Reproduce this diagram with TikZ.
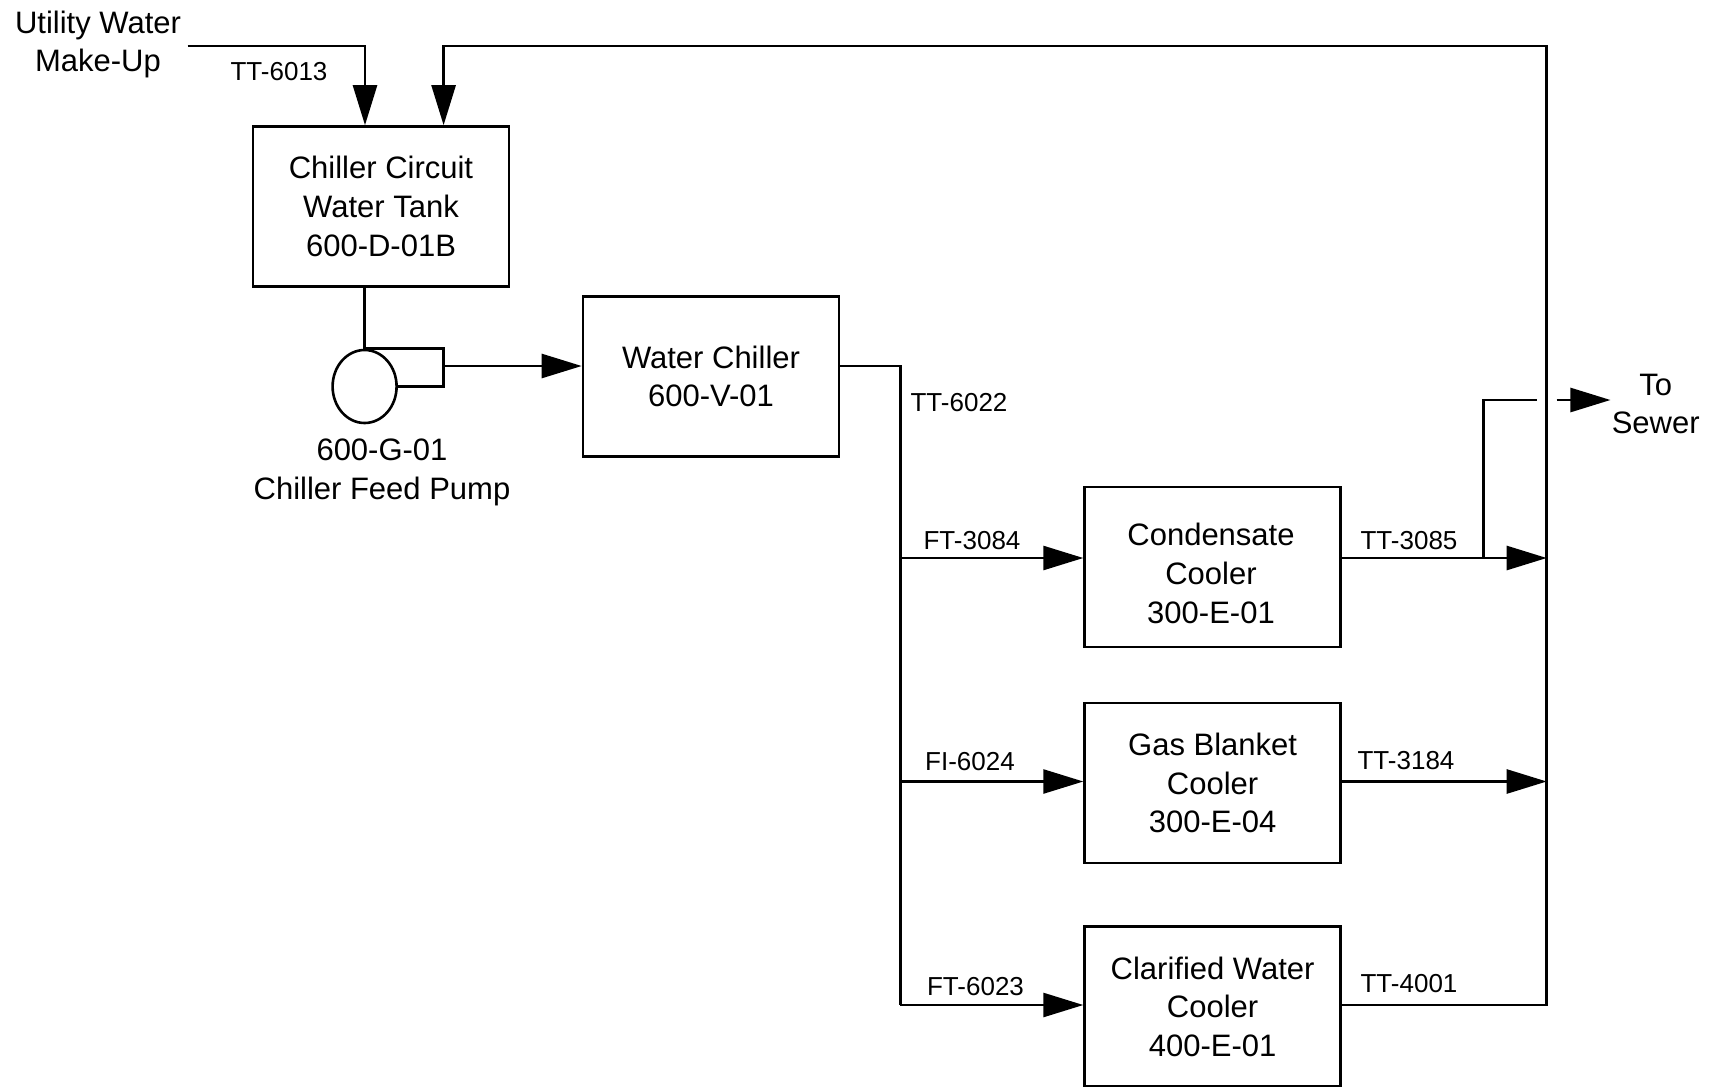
\documentclass[tikz,border=0pt]{standalone}
\usepackage{fontspec}
\setmainfont{Liberation Sans}
\usetikzlibrary{arrows.meta,shapes.geometric}
\begin{document}
\begin{tikzpicture}[x=0.5pt,y=-0.5pt,
  line width=1.3pt,
  box/.style={draw,rectangle,minimum width=128pt,minimum height=80pt,align=center,
    font=\fontsize{15.5}{19.3}\selectfont,inner sep=0pt},
  txt/.style={align=center,font=\fontsize{15.5}{19.3}\selectfont,inner sep=0pt},
  lbl/.style={font=\fontsize{13}{15}\selectfont,inner sep=0pt},
  arr/.style={-{Triangle[length=20pt,width=12pt]}},
]
\useasboundingbox (0,0) rectangle (1709,1087);

% equipment
\node[box] (tank) at (381,206.5) {Chiller Circuit\\Water Tank\\600-D-01B};
\node[box] (chiller) at (711,376.6) {Water Chiller\\600-V-01};
\node[box] (cond) at (1212.6,566.8) {};
\node[txt] (condtxt) at (1211,573.5) {Condensate\\Cooler\\300-E-01};
\node[box] (gas) at (1212.6,783) {Gas Blanket\\Cooler\\300-E-04};
\node[box] (clar) at (1212.6,1006.6) {Clarified Water\\Cooler\\400-E-01};
\node[draw,ellipse,minimum width=32pt,minimum height=36.5pt,inner sep=0pt] (pump) at (364.6,386.5) {};

% texts
\node[txt] (uw) at (98,44.5) {Utility Water\\Make-Up};
\node[txt] (pumplbl) at (382,472.5) {600-G-01\\Chiller Feed Pump};
\node[txt] (tosewer) at (1655.7,404) {To\\Sewer};
\node[lbl] (l6013) at (279,72) {TT-6013};
\node[lbl] (l6022) at (959,403) {TT-6022};
\node[lbl] (l3084) at (972,540.6) {FT-3084};
\node[lbl] (l6024) at (970,762) {FI-6024};
\node[lbl] (l6023) at (975.5,986.5) {FT-6023};
\node[lbl] (l3085) at (1409,540.6) {TT-3085};
\node[lbl] (l3184) at (1406,760.8) {TT-3184};
\node[lbl] (l4001) at (1409,984) {TT-4001};

% coordinates
\coordinate (mu) at (187.5,45.8);
\coordinate (mx) at (365,0);
\coordinate (rx) at (443.6,0);
\coordinate (htop) at (1546.7,45.8);
\coordinate (hdr) at (1546.7,1005);
\coordinate (pout) at (443.6,366);
\coordinate (spl) at (900.3,1005);
\coordinate (b1) at (900.3,558);
\coordinate (b2) at (900.3,781.5);
\coordinate (sw) at (1483.5,558);
\coordinate (sgap) at (1537,400);
\coordinate (sg) at (1556.5,400);

% make-up
\draw[arr] (mu) -| (mx |- tank.north);

% tank to pump
\draw (pump.north) -- (pump.north |- tank.south);
\draw (pump.north) -- ++(79,0) |- (pump.east);
\draw[arr] (pout) -- (pout -| chiller.west);

% chiller outlet and distribution
\draw (pout -| chiller.east) -| (spl);
\draw[arr] (b1) -- (b1 -| cond.west);
\draw[arr] (b2) -- (b2 -| gas.west);
\draw[arr] (spl) -- (spl -| clar.west);

% returns
\draw[arr] (b1 -| cond.east) -- (b1 -| hdr);
\draw[arr] (b2 -| gas.east) -- (b2 -| hdr);
\draw[arr] (spl -| clar.east) -| (htop) -| (rx |- tank.north);

% sewer
\draw (sw) |- (sgap);
\draw[arr] (sg) -- (sg -| tosewer.west);
\end{tikzpicture}
\end{document}
